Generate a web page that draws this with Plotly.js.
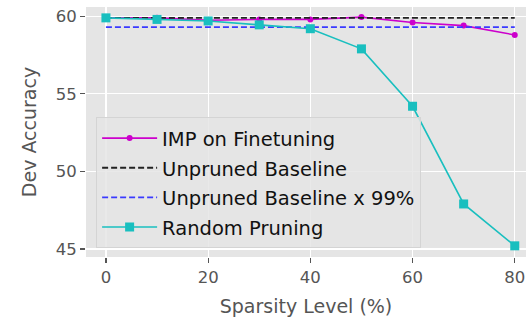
<!DOCTYPE html>
<html>
<head>
<meta charset="utf-8">
<script src="https://cdn.plot.ly/plotly-3.0.1.min.js"></script>
<style>
  html, body { margin: 0; padding: 0; background: #fff; }
  #chart { width: 526px; height: 320px; }
</style>
</head>
<body>
<div id="chart"></div>
<script>
// Sparsity levels (%) and dev accuracy for each pruning setup
const sparsity = [0, 10, 20, 30, 40, 50, 60, 70, 80];
const impFinetuning = [59.9, 59.9, 59.75, 59.8, 59.8, 59.95, 59.6, 59.4, 58.8];
const randomPruning = [59.9, 59.8, 59.7, 59.45, 59.2, 57.9, 54.2, 47.9, 45.2];
const unprunedBaseline = 59.9;
const baselineRatio = 0.99;
const xTicks = [0, 20, 40, 60, 80];
const yTicks = [45, 50, 55, 60];

const baselineLine = sparsity.map(() => unprunedBaseline);
const baseline99Line = sparsity.map(() => unprunedBaseline * baselineRatio);

const FONT = 'DejaVu Sans, sans-serif';
// legend rows are spaced by the legend font size; the visible text is a bit smaller
const label = (s) => '<span style="font-size:19.5px">' + s + '</span>';

const traces = [
  {
    x: sparsity, y: impFinetuning, name: label('IMP on Finetuning'),
    mode: 'lines+markers',
    line: {color: '#cc00cc', width: 1.6},
    marker: {color: '#cc00cc', size: 6, symbol: 'circle'}
  },
  {
    x: sparsity, y: baselineLine, name: label('Unpruned Baseline'),
    mode: 'lines',
    line: {color: '#222222', width: 1.8, dash: '6px,3px'}
  },
  {
    x: sparsity, y: baseline99Line, name: label('Unpruned Baseline x 99%'),
    mode: 'lines',
    line: {color: '#3a3aff', width: 1.8, dash: '6px,3px'}
  },
  {
    x: sparsity, y: randomPruning, name: label('Random Pruning'),
    mode: 'lines+markers',
    line: {color: '#19bfbf', width: 1.6},
    marker: {color: '#19bfbf', size: 9, symbol: 'square'}
  }
];

const layout = {
  width: 526, height: 320,
  margin: {l: 86, r: 0, t: 7, b: 63},
  paper_bgcolor: '#ffffff',
  plot_bgcolor: '#e5e5e5',
  font: {family: FONT, color: '#555555', size: 16},
  showlegend: true,
  legend: {
    x: 0.023, y: 0.035, xanchor: 'left', yanchor: 'bottom',
    bgcolor: 'rgba(229,229,229,0.85)',
    bordercolor: '#d4d4d4', borderwidth: 1,
    font: {family: FONT, size: 20.5, color: '#111111'},
    itemwidth: 55,
    traceorder: 'normal'
  },
  xaxis: {
    range: [-3.9, 82.2],
    tickvals: xTicks,
    ticks: 'outside', ticklen: 5, tickwidth: 1.2, tickcolor: '#555555',
    showgrid: true, gridcolor: '#ffffff', gridwidth: 1.2,
    zeroline: false, showline: false,
    tickfont: {family: FONT, size: 16.5, color: '#555555'},
    title: {text: 'Sparsity Level (%)', font: {family: FONT, size: 19, color: '#555555'}, standoff: 13}
  },
  yaxis: {
    range: [44.48, 60.6],
    tickvals: yTicks,
    ticks: 'outside', ticklen: 5, tickwidth: 1.2, tickcolor: '#555555',
    showgrid: true, gridcolor: '#ffffff', gridwidth: 1.2,
    zeroline: false, showline: false,
    tickfont: {family: FONT, size: 16.5, color: '#555555'},
    title: {text: 'Dev Accuracy', font: {family: FONT, size: 19, color: '#555555'}, standoff: 14}
  }
};

Plotly.newPlot('chart', traces, layout, {displayModeBar: false, staticPlot: true});
</script>
</body>
</html>
